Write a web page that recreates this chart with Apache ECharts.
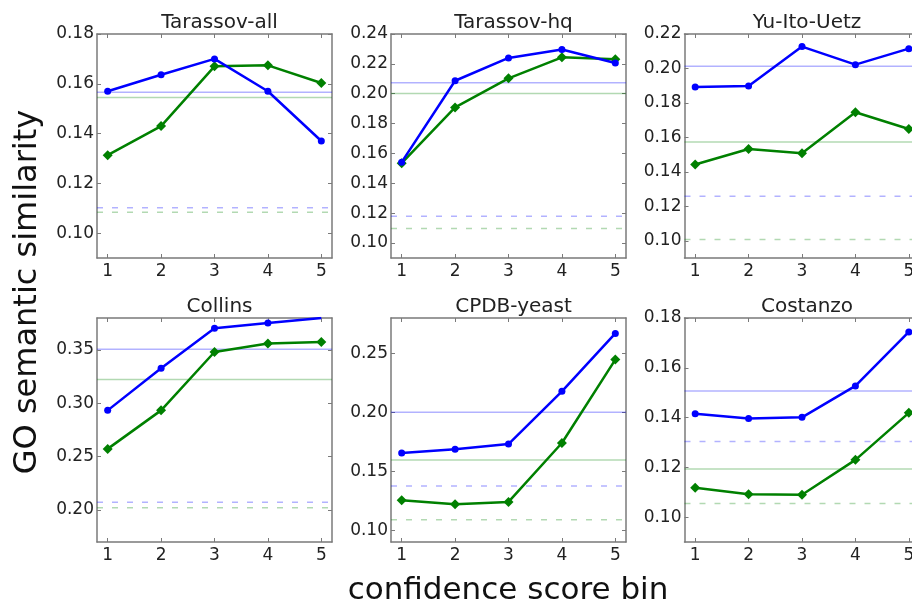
<!DOCTYPE html>
<html>
<head>
<meta charset="utf-8">
<script src="https://cdn.jsdelivr.net/npm/echarts@6/dist/echarts.min.js"></script>
<style>
html,body{margin:0;padding:0;background:#fff;overflow:hidden;}
#chart{width:940px;height:608px;}
</style>
</head>
<body>
<div id="chart"></div>
<script>
// ---- data ----
const bins = [1, 2, 3, 4, 5];
const xRange = [0.8, 5.2];
const panelTitles = ['Tarassov-all', 'Tarassov-hq', 'Yu-Ito-Uetz', 'Collins', 'CPDB-yeast', 'Costanzo'];

const tarassovAllBlue  = [0.157, 0.1636, 0.170, 0.157, 0.137];
const tarassovAllGreen = [0.1313, 0.143, 0.167, 0.1674, 0.1603];
const tarassovHqBlue   = [0.1542, 0.2087, 0.224, 0.2296, 0.2206];
const tarassovHqGreen  = [0.1535, 0.1908, 0.2103, 0.2244, 0.2231];
const yuItoUetzBlue    = [0.1892, 0.1898, 0.2127, 0.2022, 0.2115];
const yuItoUetzGreen   = [0.1443, 0.1533, 0.1508, 0.1746, 0.1649];
const collinsBlue      = [0.2934, 0.3328, 0.3703, 0.3753, 0.3801];
const collinsGreen     = [0.2573, 0.2934, 0.3481, 0.356, 0.3576];
const cpdbYeastBlue    = [0.1655, 0.1686, 0.1731, 0.2178, 0.2669];
const cpdbYeastGreen   = [0.1254, 0.122, 0.124, 0.174, 0.2447];
const costanzoBlue     = [0.1415, 0.1396, 0.1401, 0.1527, 0.1744];
const costanzoGreen    = [0.1118, 0.1092, 0.109, 0.123, 0.1419];

// reference levels: [blue solid, green solid, blue dashed, green dashed]
const tarassovAllRef = [0.1566, 0.1545, 0.1102, 0.1084];
const tarassovHqRef  = [0.2074, 0.2002, 0.1179, 0.1097];
const yuItoUetzRef   = [0.2013, 0.1573, 0.1259, 0.1008];
const collinsRef     = [0.3506, 0.3223, 0.2072, 0.2022];
const cpdbYeastRef   = [0.200, 0.1596, 0.1374, 0.1089];
const costanzoRef    = [0.1507, 0.1193, 0.1304, 0.1055];

// y tick labels per panel
const tarassovAllTicks = [0.10, 0.12, 0.14, 0.16, 0.18];
const tarassovHqTicks  = [0.10, 0.12, 0.14, 0.16, 0.18, 0.20, 0.22, 0.24];
const yuItoUetzTicks   = [0.10, 0.12, 0.14, 0.16, 0.18, 0.20, 0.22];
const collinsTicks     = [0.20, 0.25, 0.30, 0.35];
const cpdbYeastTicks   = [0.10, 0.15, 0.20, 0.25];
const costanzoTicks    = [0.10, 0.12, 0.14, 0.16, 0.18];

// y ranges
const yRanges = [[0.09, 0.18], [0.09, 0.24], [0.09, 0.22], [0.17, 0.38], [0.09, 0.28], [0.09, 0.18]];

const blueSets  = [tarassovAllBlue, tarassovHqBlue, yuItoUetzBlue, collinsBlue, cpdbYeastBlue, costanzoBlue];
const greenSets = [tarassovAllGreen, tarassovHqGreen, yuItoUetzGreen, collinsGreen, cpdbYeastGreen, costanzoGreen];
const refSets   = [tarassovAllRef, tarassovHqRef, yuItoUetzRef, collinsRef, cpdbYeastRef, costanzoRef];
const tickSets  = [tarassovAllTicks, tarassovHqTicks, yuItoUetzTicks, collinsTicks, cpdbYeastTicks, costanzoTicks];

// ---- layout ----
const colLefts = [97, 391, 684.5];
const rowTops = [34, 318];
const gW = 235, gH = 224;
const FONT = 'DejaVu Sans';
const frameColor = '#7a7a7a';
const BLUE = '#0000ff', GREEN = '#008000';
const BLUE_REF = 'rgba(0,0,255,0.3)', GREEN_REF = 'rgba(0,128,0,0.3)';
const refColors = [BLUE_REF, GREEN_REF, BLUE_REF, GREEN_REF];
const refTypes = ['solid', 'solid', [6, 9], [6, 9]];

const grids = [], xAxes = [], yAxes = [], series = [], titles = [];

for (let i = 0; i < 6; i++) {
  const col = i % 3, row = Math.floor(i / 3);
  const left = colLefts[col], top = rowTops[row];
  grids.push({ left: left, top: top, width: gW, height: gH, containLabel: false });
  titles.push({
    text: panelTitles[i], left: left + gW / 2, top: top - 26, textAlign: 'center',
    textStyle: { fontFamily: FONT, fontSize: 20, fontWeight: 'normal', color: '#222' }
  });
  const axLine = { show: true, onZero: false, lineStyle: { color: frameColor, width: 1.5 } };
  const tick = (vals) => ({ show: true, inside: true, length: 4, customValues: vals, lineStyle: { color: frameColor, width: 1 } });
  xAxes.push({
    type: 'value', gridIndex: i, min: xRange[0], max: xRange[1], position: 'bottom',
    axisLine: axLine, axisTick: tick(bins), splitLine: { show: false },
    axisLabel: { show: true, customValues: bins, margin: 5, fontFamily: FONT, fontSize: 17, color: '#222', formatter: v => String(v) }
  });
  xAxes.push({
    type: 'value', gridIndex: i, min: xRange[0], max: xRange[1], position: 'top',
    axisLine: axLine, axisTick: tick(bins), splitLine: { show: false }, axisLabel: { show: false }
  });
  const [ymin, ymax] = yRanges[i];
  yAxes.push({
    type: 'value', gridIndex: i, min: ymin, max: ymax, position: 'left',
    axisLine: axLine, axisTick: tick(tickSets[i]), splitLine: { show: false },
    axisLabel: { show: true, customValues: tickSets[i], margin: 3, fontFamily: FONT, fontSize: 17, color: '#222', formatter: v => v.toFixed(2) }
  });
  yAxes.push({
    type: 'value', gridIndex: i, min: ymin, max: ymax, position: 'right',
    axisLine: axLine, axisTick: tick(tickSets[i]), splitLine: { show: false }, axisLabel: { show: false }
  });
  const ref = refSets[i];
  for (let r = 0; r < 4; r++) {
    series.push({
      type: 'line', xAxisIndex: 2 * i, yAxisIndex: 2 * i, silent: true, z: 1,
      data: xRange.map(x => [x, ref[r]]), symbol: 'none',
      lineStyle: { color: refColors[r], width: 1.5, type: refTypes[r] }
    });
  }
  series.push({
    type: 'line', xAxisIndex: 2 * i, yAxisIndex: 2 * i, z: 3,
    data: bins.map((b, k) => [b, greenSets[i][k]]),
    lineStyle: { color: GREEN, width: 2.5 }, itemStyle: { color: GREEN },
    symbol: 'diamond', symbolSize: 10, showSymbol: true
  });
  series.push({
    type: 'line', xAxisIndex: 2 * i, yAxisIndex: 2 * i, z: 4,
    data: bins.map((b, k) => [b, blueSets[i][k]]),
    lineStyle: { color: BLUE, width: 2.5 }, itemStyle: { color: BLUE },
    symbol: 'circle', symbolSize: 7, showSymbol: true
  });
}

const chart = echarts.init(document.getElementById('chart'), null, { renderer: 'canvas' });
chart.setOption({
  animation: false,
  backgroundColor: '#fff',
  title: titles,
  grid: grids,
  xAxis: xAxes,
  yAxis: yAxes,
  series: series,
  graphic: [
    {
      type: 'text', x: 28, y: 292, rotation: Math.PI / 2,
      style: { text: 'GO semantic similarity', font: '32px "DejaVu Sans"', fill: '#111', align: 'center', verticalAlign: 'middle' }
    },
    {
      type: 'text', x: 508, y: 591,
      style: { text: 'confidence score bin', font: '31px "DejaVu Sans"', fill: '#111', align: 'center', verticalAlign: 'middle' }
    }
  ]
});
</script>
</body>
</html>
